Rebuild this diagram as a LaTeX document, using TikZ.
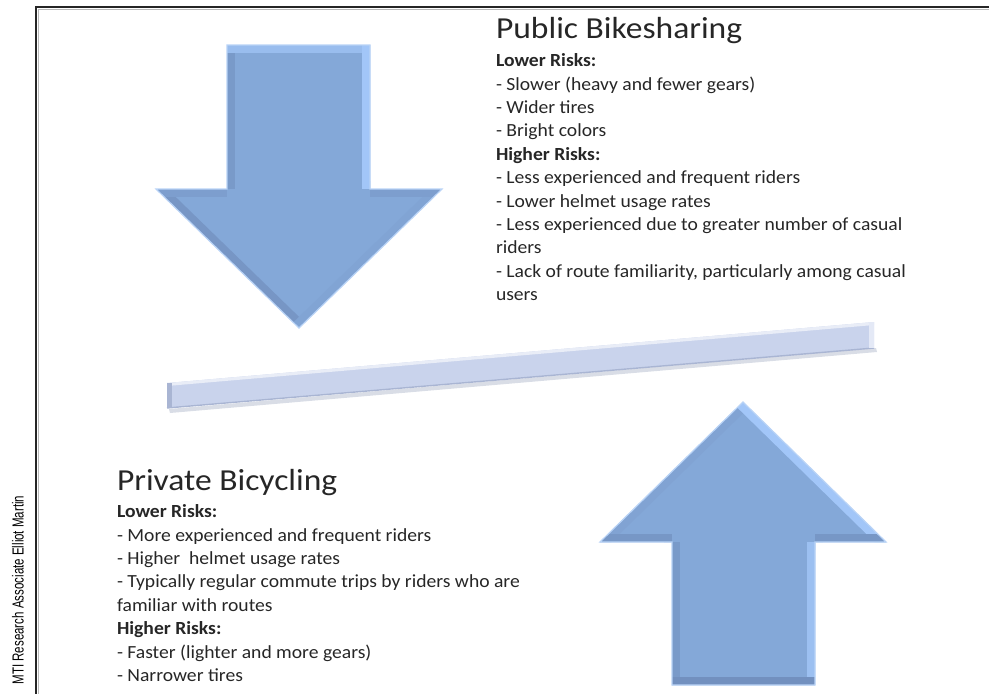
\documentclass[tikz,border=0pt]{standalone}
\usepackage{fontspec}
\setmainfont{Carlito}
\newfontfamily\listfont[FakeStretch=1.06]{Carlito}
\newfontfamily\titlefont[FakeStretch=1.1]{Carlito}
\newfontfamily\creditfont[FakeStretch=0.72]{Liberation Sans}
\usetikzlibrary{positioning}

\definecolor{arrowbase}{HTML}{84A8D8}
\definecolor{arrowdark}{HTML}{7290BF}
\definecolor{arrowlight}{HTML}{A2C6F8}
\definecolor{arrowrim}{HTML}{B9D3F6}
\definecolor{barface}{HTML}{C9D3EC}
\definecolor{barrim}{HTML}{A9B5D3}
\definecolor{barshadow}{HTML}{D9DDE6}

\begin{document}
\begin{tikzpicture}[
  x=1pt, y=-1pt,
  every node/.style={inner sep=0pt, outer sep=0pt},
  heading/.style={anchor=base west, font=\titlefont\fontsize{30.5}{34}\selectfont, text=black!85},
  % base of a multi-line node sits on its last line
  risklist/.style={anchor=base west, align=left, text=black!85,
                   font=\listfont\fontsize{18.5}{23.4}\selectfont},
  bevel/.style={line width=16pt, line join=miter},
  frameline/.style={line width=2.6pt, draw=black!85}
]
\useasboundingbox (0,0) rectangle (989,694);

% frame
\draw[frameline] (36,700) -- (36,7) -- (995,7);
\draw[gray!55, line width=0.8pt] (38.6,700) -- (38.6,9.6) -- (995,9.6);

% credit along the left edge
\node[rotate=90, font=\creditfont\fontsize{16}{18}\selectfont] (credit) at (18,590)
  {MTI Research Associate Elliot Martin};

% arrow pointing down
\begin{scope}
  \clip (227,45) -- (370,45) -- (370,189) -- (442,189) -- (299,328) -- (156,189) -- (227,189) -- cycle;
  \fill[arrowbase] (150,40) rectangle (450,335);
  \draw[bevel, arrowdark!75!arrowbase] (156,189) -- (299,328);
  \draw[bevel, arrowdark!60!arrowbase] (227,189) -- (227,45);
  \draw[bevel, arrowlight!70!arrowbase] (227,45) -- (370,45);
  \draw[bevel, arrowlight] (370,45) -- (370,189);
  \draw[bevel, arrowbase!85!arrowdark] (442,189) -- (299,328);
  \draw[bevel, arrowdark!40!arrowbase] (156,189) -- (227,189) (370,189) -- (442,189);
\end{scope}
\draw[arrowrim, line width=1.2pt, line join=miter]
  (227,45) -- (370,45) -- (370,189) -- (442,189) -- (299,328) -- (156,189) -- (227,189) -- cycle;

% arrow pointing up
\begin{scope}
  \clip (743,402) -- (886,542) -- (815,542) -- (815,685) -- (672,685) -- (672,542) -- (600,542) -- cycle;
  \fill[arrowbase] (595,395) rectangle (890,690);
  \draw[bevel, arrowbase!80!arrowdark] (600,542) -- (743,402);
  \draw[bevel, arrowlight] (743,402) -- (886,542);
  \draw[bevel, arrowdark!70!arrowbase] (600,542) -- (672,542) (815,542) -- (886,542);
  \draw[bevel, arrowdark!60!arrowbase] (672,542) -- (672,685);
  \draw[bevel, arrowlight!80!arrowbase] (815,542) -- (815,685);
  \draw[bevel, arrowdark] (672,685) -- (815,685);
\end{scope}
\draw[arrowrim, line width=1.2pt, line join=miter]
  (743,402) -- (886,542) -- (815,542) -- (815,685) -- (672,685) -- (672,542) -- (600,542) -- cycle;

% tilted balance bar
\fill[barshadow] (169,409) -- (876,348) -- (877,352) -- (170,413) -- cycle;
\fill[barface] (167,383) -- (874,322) -- (874,348) -- (167,408) -- cycle;
\fill[white!60!barface] (167,383) -- (874,322) -- (874,325) -- (167,386) -- cycle;
\fill[barrim] (167,383) -- (172,383) -- (172,408) -- (167,408) -- cycle;
\draw[barrim, line width=1.4pt] (167,408) -- (874,348);
\fill[white!50!barface] (869,322) -- (874,322) -- (874,348) -- (869,348) -- cycle;

% public bikesharing
\node[heading] (pubtitle) at (496,38.5) {Public Bikesharing};
\node[risklist] (pubrisks) at (496,300.7) {%
  \textbf{Lower Risks:}\\
  - Slower (heavy and fewer gears)\\
  - Wider tires\\
  - Bright colors\\
  \textbf{Higher Risks:}\\
  - Less experienced and frequent riders\\
  - Lower helmet usage rates\\
  - Less experienced due to greater number of casual\\
  riders\\
  - Lack of route familiarity, particularly among casual\\
  users};

% private bicycling
\node[heading] (privtitle) at (117,490) {Private Bicycling};
\node[risklist] (privrisks) at (117,681.5) {%
  \textbf{Lower Risks:}\\
  - More experienced and frequent riders\\
  - Higher\ \ helmet usage rates\\
  - Typically regular commute trips by riders who are\\
  familiar with routes\\
  \textbf{Higher Risks:}\\
  - Faster (lighter and more gears)\\
  - Narrower tires};
\end{tikzpicture}
\end{document}
